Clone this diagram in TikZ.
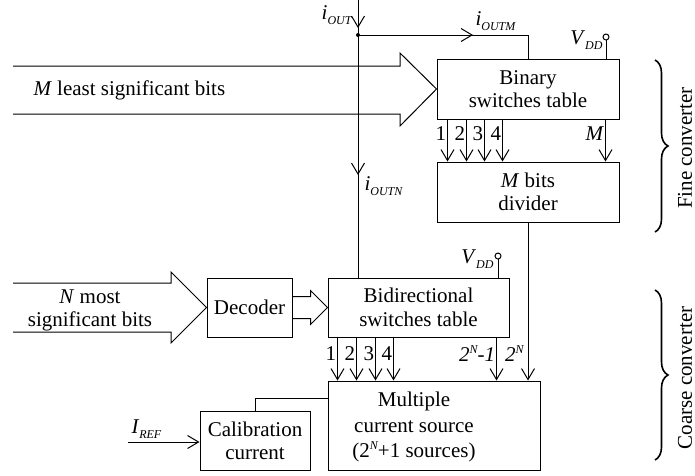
\documentclass[tikz,border=0pt]{standalone}
\usepackage{fontspec}
\setmainfont{Liberation Serif}
\usetikzlibrary{arrows.meta,decorations.pathreplacing,decorations.markings,calc}
\newcommand\sbs[1]{\raisebox{-0.45ex}{\fontsize{12}{12}\selectfont\itshape #1}}
\newcommand\sps[1]{\raisebox{0.85ex}{\fontsize{12}{12}\selectfont\itshape #1}}
\begin{document}
\begin{tikzpicture}[x=1pt,y=-1pt,line width=1pt,
  >={Straight Barb[length=11pt,width=13pt]},
  txt/.style={font=\fontsize{21}{23}\selectfont, inner sep=0pt},
  blk/.style={draw, txt, align=center},
  lbl/.style={txt, anchor=east},
  midarr/.style={postaction={decorate,decoration={markings,mark=at position #1 with {\arrow{>}}}}},
  brc/.style={decorate, decoration={brace, amplitude=13pt}, line width=1.6pt}]
\useasboundingbox (0,0) rectangle (695,475);

% blocks
\node[blk, minimum width=182pt, minimum height=60pt] (bin) at (528,89) {Binary\\switches table};
\node[blk, minimum width=182pt, minimum height=60pt] (div) at (528,192) {\textit{M} bits\\divider};
\node[blk, minimum width=181pt, minimum height=59pt, font=\fontsize{21}{24}\selectfont] (bid) at (418.5,307.5) {Bidirectional\\switches table};
\node[blk, minimum width=85pt, minimum height=59pt] (dec) at (249.5,307.5) {Decoder};
\node[draw, minimum width=212pt, minimum height=89pt, inner sep=0pt] (mcs) at (434,425.5) {};
\node[txt, align=center, font=\fontsize{21}{25.5}\selectfont] (mcst) at (414,427) {Multiple\\current source\\(2\sps{N}+1 sources)};
\node[blk, minimum width=110pt, minimum height=59pt] (cal) at (255,440.5) {Calibration\\current};

% fat bus arrows
\draw (13,66) -- (400,66) -- (400,53) -- (bin.west) -- (400,126) -- (400,114) -- (13,114);
\node[txt, anchor=west] (mlsb) at (33,90) {\textit{M} least significant bits};
\draw (13,283) -- (171,283) -- (171,272) -- (dec.west) -- (171,343) -- (171,332) -- (13,332);
\node[txt, align=center] (nmsb) at (90,310) {\textit{N} most\\significant bits};
\draw ($(dec.east)+(0,-11)$) -- ++(18,0) -- ++(0,-6) -- (bid.west) -- ($(dec.east)+(18,17)$) -- ++(0,-6) -- ($(dec.east)+(0,11)$);

% output current lines
\coordinate (top) at (358,0);
\coordinate (jn) at (358,35);
\draw[postaction={decorate,decoration={markings,
   mark=at position 28pt with {\arrow{>}},
   mark=at position 175pt with {\arrow{>}}}}] (top) -- (top |- bid.north);
\fill (jn) circle (2pt);
\draw[midarr=115pt] (jn) -- (jn -| bin.north) -- (bin.north);
\node[lbl] (liout) at (352,15) {\textit{i}\sbs{OUT}};
\node[txt, anchor=west] (lioutm) at (475,21) {\textit{i}\sbs{OUTM}};
\node[txt, anchor=west] (lioutn) at (364,186) {\textit{i}\sbs{OUTN}};

% VDD
\coordinate (vdd1) at (606,37);
\draw (vdd1) circle (3pt);
\draw ($(vdd1)+(0,3)$) -- (vdd1 |- bin.north);
\node[lbl] (lvdd1) at (603,40) {\textit{V}\sbs{DD}};
\coordinate (vdd2) at (498,256);
\draw (vdd2) circle (3pt);
\draw ($(vdd2)+(0,3)$) -- (vdd2 |- bid.north);
\node[lbl] (lvdd2) at (494,259) {\textit{V}\sbs{DD}};

% binary -> divider
\foreach \dx/\t in {11/1,30/2,48/3,66/4,169/\textit{M}} {
  \draw[->] ($(bin.south west)+(\dx,0)$) -- ($(div.north west)+(\dx,0)$);
  \node[lbl] at ($(bin.south west)+(\dx-1,14)$) {\t};
}
% bidirectional -> multiple current source
\foreach \dx/\t in {10/1,29/2,48/3,66/4,169/\textit{2\sps{N}-1}} {
  \draw[->] ($(bid.south west)+(\dx,0)$) -- ($(mcs.north west)+(\dx,0)$);
  \node[lbl] at ($(bid.south west)+(\dx-1,16)$) {\t};
}
\draw[->] (div.south) -- (div.south |- mcs.north);
\node[lbl] (l2n) at ($(div.south |- bid.south)+(-4,16)$) {\textit{2\sps{N}}};

% calibration
\draw (cal.north) |- ($(mcs.north west)+(0,18)$);
\coordinate (iref) at (128,442);
\draw[->] (iref) -- (iref -| cal.west);
\node[txt, anchor=west] (liref) at (131,429) {\textit{I}\sbs{REF}};

% braces
\draw[brc] (655,60) -- (655,232);
\node[txt, rotate=90] (fine) at (685,148) {Fine converter};
\draw[brc] (655,290) -- (655,460);
\node[txt, rotate=90] (coarse) at (685,378) {Coarse converter};
\end{tikzpicture}
\end{document}
